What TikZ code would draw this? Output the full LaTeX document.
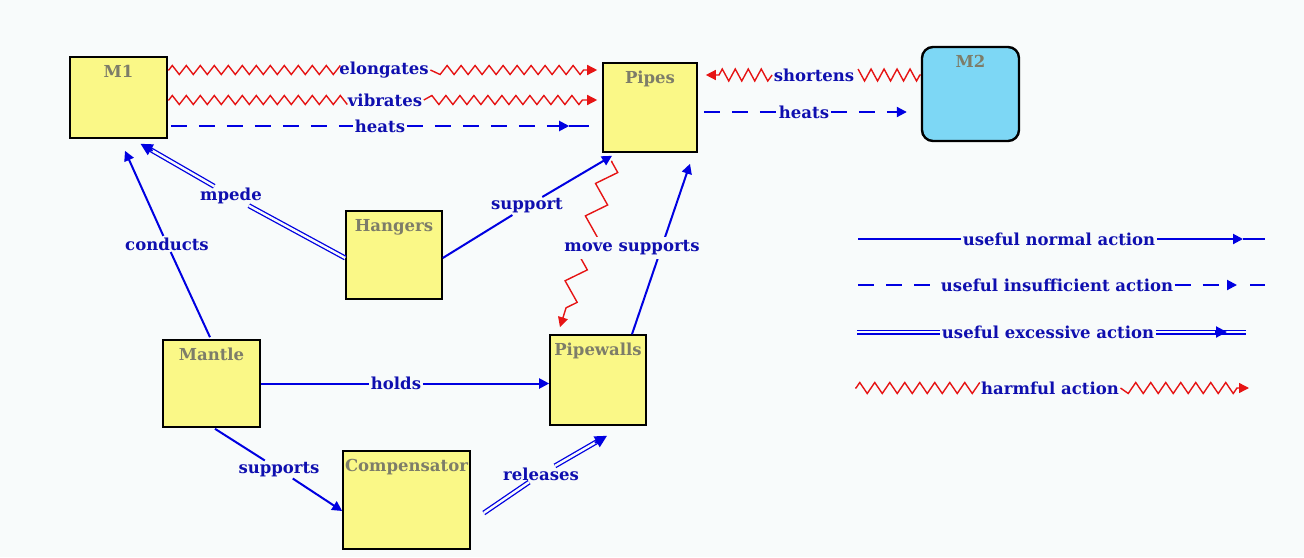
\documentclass[tikz,border=0pt]{standalone}
\usepackage{fontspec}
\setmainfont{DejaVu Serif}
\usepackage{tikz}
\usetikzlibrary{arrows.meta,calc,decorations.pathmorphing}
\definecolor{PaperBg}{RGB}{248,251,251}
\definecolor{BoxYellow}{RGB}{250,248,135}
\definecolor{BoxCyan}{RGB}{125,215,245}
\definecolor{TitleGray}{RGB}{125,125,105}
\definecolor{LabelBlue}{RGB}{15,15,175}
\definecolor{ActionBlue}{RGB}{0,0,225}
\definecolor{HarmRed}{RGB}{230,20,20}

\tikzset{
  comp/.style={draw=black,line width=1.6pt,fill=BoxYellow,inner sep=0pt},
  ttl/.style={anchor=north,yshift=-9pt,inner sep=0pt,text=TitleGray,font=\bfseries\fontsize{16.5}{16.5}\selectfont},
  act/.style={inner sep=1.5pt,text=LabelBlue,font=\bfseries\fontsize{16.5}{16.5}\selectfont},
  normal/.style={draw=ActionBlue,line width=2pt},
  insuff/.style={normal,dash pattern=on 16pt off 12pt},
  excess/.style={draw=ActionBlue,line width=1.3pt,double=PaperBg,double distance=2.4pt},
  bigtip/.style={normal,-{Triangle[length=12pt,width=12pt]}},
  harm/.style={draw=HarmRed,line width=1.4pt,decorate,
    decoration={zigzag,segment length=14pt,amplitude=4.5pt,pre length=1pt,post length=9pt}}
}

\begin{document}
\begin{tikzpicture}[x=1pt,y=-1pt,>={Triangle[length=10pt,width=10pt]}]
  \fill[PaperBg] (0,0) rectangle (1304,557);
  \useasboundingbox (0,0) rectangle (1304,557);

  % components
  \node[comp,minimum width=97pt,minimum height=81pt,label={[ttl]north:M1}] (M1) at (118.5,97.5) {};
  \node[comp,minimum width=94pt,minimum height=89pt,label={[ttl]north:Pipes}] (Pipes) at (650,107.5) {};
  \node[comp,fill=BoxCyan,line width=2.4pt,rounded corners=11pt,minimum width=97pt,minimum height=94pt,
        label={[ttl]north:M2}] (M2) at (970.5,94) {};
  \node[comp,minimum width=96pt,minimum height=88pt,label={[ttl]north:Hangers}] (Hangers) at (394,255) {};
  \node[comp,minimum width=97pt,minimum height=87pt,label={[ttl]north:Mantle}] (Mantle) at (211.5,383.5) {};
  \node[comp,minimum width=96pt,minimum height=90pt,label={[ttl]north:Pipewalls}] (Pipewalls) at (598,380) {};
  \node[comp,minimum width=127pt,minimum height=98pt,label={[ttl]north:Compensator}] (Comp) at (406.5,500) {};

  % action labels
  \node[act] (elab) at (384,70) {elongates};
  \node[act] (vlab) at (385,100) {vibrates};
  \node[act] (hlab) at (380,126) {heats};
  \node[act] (shlab) at (814,75) {shortens};
  \node[act] (htlab) at (804,112) {heats};
  \node[act] (mplab) at (231,196) {mpede};
  \node[act] (cdlab) at (167,244) {conducts};
  \node[act] (splab) at (527,206) {support};
  \node[act] (hdlab) at (396,383.5) {holds};
  \node[act] (sulab) at (279,469.5) {supports};
  \node[act] (rllab) at (541,474) {releases};

  % M1 -> Pipes
  \draw[harm,->] ([yshift=27.5pt]M1.east) -- (elab) -- ([yshift=37.5pt,xshift=-5pt]Pipes.west);
  \draw[harm,->] ([yshift=-2.5pt]M1.east) -- (vlab) -- ([yshift=7.5pt,xshift=-5pt]Pipes.west);
  \draw[insuff,->] ([yshift=-28.5pt,xshift=3pt]M1.east) -- (hlab) -- ([yshift=-18.5pt,xshift=-33pt]Pipes.west);
  \draw[normal] ([yshift=-18.5pt,xshift=-33pt]Pipes.west) -- ([yshift=-18.5pt,xshift=-13pt]Pipes.west);

  % M2 <-> Pipes
  \draw[harm,->,decoration={amplitude=6pt,segment length=13pt}] ([yshift=19pt]M2.west) -- (shlab) -- ([yshift=32.5pt,xshift=8pt]Pipes.east);
  \draw[insuff,->] ([yshift=-4.5pt,xshift=6pt]Pipes.east) -- (htlab) -- ([yshift=-18pt,xshift=-14pt]M2.west);

  % into M1
  \coordinate (mpEnd) at ([xshift=22pt,yshift=-5pt]M1.south);
  \draw[excess] ([yshift=-3pt]Hangers.west) -- (mplab) -- ($(mpEnd)!6pt!(mplab)$);
  \draw[bigtip] ($(mpEnd)!14pt!(mplab)$) -- (mpEnd);
  \draw[normal,->] ([xshift=-1.5pt,yshift=2pt]Mantle.north) -- (cdlab) -- ([xshift=6.5pt,yshift=-12pt]M1.south);

  % Hangers -> Pipes
  \draw[normal,->] ([yshift=-3pt]Hangers.east) -- (splab) -- ([xshift=-38pt,yshift=-3pt]Pipes.south);

  % Pipes <-> Pipewalls
  \draw[harm,->,decoration={segment length=34pt,amplitude=9pt,post length=10pt}]
    ([xshift=-38pt,yshift=-8pt]Pipes.south) -- ([xshift=-38pt,yshift=7pt]Pipewalls.north);
  \draw[normal,->] ([xshift=34pt]Pipewalls.north) -- ([xshift=40pt,yshift=-11pt]Pipes.south);
  \node[act,fill=PaperBg,inner sep=4pt] (mvlab) at (632,248) {move supports};

  % from Mantle and Compensator
  \draw[normal,->] (Mantle.east) -- (hdlab) -- (Pipewalls.west |- Mantle.east);
  \draw[normal,->] ([xshift=3.5pt,yshift=-1pt]Mantle.south) -- (sulab) -- ([yshift=-11pt]Comp.west);
  \coordinate (rlEnd) at ([xshift=9pt,yshift=-10pt]Pipewalls.south);
  \draw[excess] ([xshift=13pt,yshift=-13pt]Comp.east) -- (rllab) -- ($(rlEnd)!6pt!(rllab)$);
  \draw[bigtip] ($(rlEnd)!14pt!(rllab)$) -- (rlEnd);

  % legend
  \coordinate (n0) at (858,239);
  \coordinate (n1) at (1243,239);
  \coordinate (n2) at (1265,239);
  \node[act] (nlab) at (1059,239) {useful normal action};
  \draw[normal,->] (n0) -- (nlab) -- (n1);
  \draw[normal] (n1) -- (n2);

  \coordinate (i0) at (858,285);
  \coordinate (i1) at (1237,285);
  \coordinate (i2) at (1265,285);
  \node[act] (ilab) at (1057,285) {useful insufficient action};
  \draw[insuff,->] (i0) -- (ilab) -- (i1);
  \draw[normal,shorten <=13pt] (i1) -- (i2);

  \coordinate (x0) at (857,332);
  \coordinate (x1) at (1227,332);
  \coordinate (x2) at (1246,332);
  \node[act] (xlab) at (1048,332) {useful excessive action};
  \draw[excess] (x0) -- (xlab) -- (x2);
  \draw[normal,-{Triangle[length=11pt,width=11pt]}] ($(x1)!12pt!(xlab)$) -- (x1);

  \coordinate (h0) at (855,388);
  \coordinate (h1) at (1249,388);
  \node[act] (hmlab) at (1050,388) {harmful action};
  \draw[harm,->,decoration={amplitude=5.5pt,segment length=15pt}] (h0) -- (hmlab) -- (h1);
\end{tikzpicture}
\end{document}
